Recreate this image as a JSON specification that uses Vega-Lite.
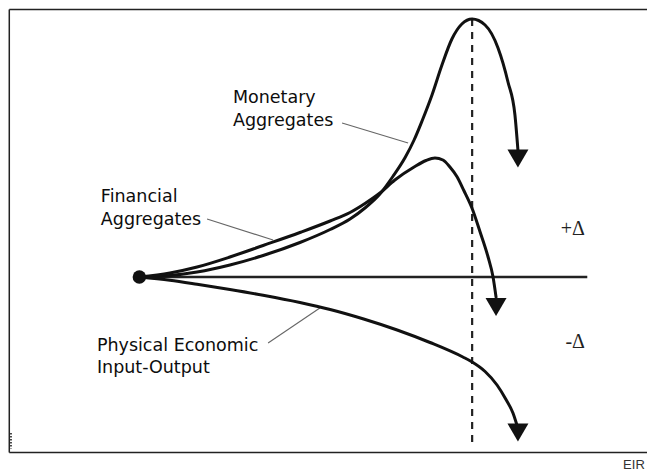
{
  "$schema": "https://vega.github.io/schema/vega-lite/v6.json",
  "width": 647,
  "height": 472,
  "padding": 0,
  "autosize": {"type": "none"},
  "background": "white",
  "config": {"view": {"stroke": null}},
  "datasets": {
    "curves": [
      {"curve": "Monetary Aggregates", "i": 0, "x": 0, "y": 0},
      {"curve": "Monetary Aggregates", "i": 1, "x": 9.2, "y": 0.6},
      {"curve": "Monetary Aggregates", "i": 2, "x": 17.4, "y": 2.0},
      {"curve": "Monetary Aggregates", "i": 3, "x": 27.3, "y": 4.8},
      {"curve": "Monetary Aggregates", "i": 4, "x": 37.3, "y": 8.6},
      {"curve": "Monetary Aggregates", "i": 5, "x": 48.4, "y": 13.8},
      {"curve": "Monetary Aggregates", "i": 6, "x": 57.5, "y": 19.0},
      {"curve": "Monetary Aggregates", "i": 7, "x": 63.5, "y": 23.2},
      {"curve": "Monetary Aggregates", "i": 8, "x": 68.0, "y": 27.6},
      {"curve": "Monetary Aggregates", "i": 9, "x": 72.5, "y": 33.2},
      {"curve": "Monetary Aggregates", "i": 10, "x": 76.4, "y": 40.2},
      {"curve": "Monetary Aggregates", "i": 11, "x": 80.1, "y": 47.8},
      {"curve": "Monetary Aggregates", "i": 12, "x": 82.8, "y": 54.8},
      {"curve": "Monetary Aggregates", "i": 13, "x": 85.2, "y": 62.4},
      {"curve": "Monetary Aggregates", "i": 14, "x": 88.2, "y": 72.8},
      {"curve": "Monetary Aggregates", "i": 15, "x": 91.2, "y": 84.8},
      {"curve": "Monetary Aggregates", "i": 16, "x": 94.2, "y": 95.2},
      {"curve": "Monetary Aggregates", "i": 17, "x": 97.2, "y": 101.2},
      {"curve": "Monetary Aggregates", "i": 18, "x": 100.3, "y": 103.2},
      {"curve": "Monetary Aggregates", "i": 19, "x": 104.2, "y": 100.8},
      {"curve": "Monetary Aggregates", "i": 20, "x": 108.1, "y": 91.6},
      {"curve": "Monetary Aggregates", "i": 21, "x": 111.1, "y": 78.0},
      {"curve": "Monetary Aggregates", "i": 22, "x": 113.2, "y": 64.8},
      {"curve": "Monetary Aggregates", "i": 23, "x": 114.1, "y": 50.8},
      {"curve": "Financial Aggregates", "i": 0, "x": 0, "y": 0},
      {"curve": "Financial Aggregates", "i": 1, "x": 9.2, "y": 1.6},
      {"curve": "Financial Aggregates", "i": 2, "x": 17.4, "y": 4.0},
      {"curve": "Financial Aggregates", "i": 3, "x": 27.3, "y": 8.0},
      {"curve": "Financial Aggregates", "i": 4, "x": 37.3, "y": 12.6},
      {"curve": "Financial Aggregates", "i": 5, "x": 48.4, "y": 17.8},
      {"curve": "Financial Aggregates", "i": 6, "x": 57.5, "y": 22.4},
      {"curve": "Financial Aggregates", "i": 7, "x": 63.5, "y": 25.8},
      {"curve": "Financial Aggregates", "i": 8, "x": 68.0, "y": 29.4},
      {"curve": "Financial Aggregates", "i": 9, "x": 72.5, "y": 33.6},
      {"curve": "Financial Aggregates", "i": 10, "x": 77.0, "y": 38.8},
      {"curve": "Financial Aggregates", "i": 11, "x": 82.8, "y": 44.0},
      {"curve": "Financial Aggregates", "i": 12, "x": 86.4, "y": 46.6},
      {"curve": "Financial Aggregates", "i": 13, "x": 89.1, "y": 47.6},
      {"curve": "Financial Aggregates", "i": 14, "x": 91.5, "y": 46.8},
      {"curve": "Financial Aggregates", "i": 15, "x": 93.6, "y": 44.0},
      {"curve": "Financial Aggregates", "i": 16, "x": 95.7, "y": 40.2},
      {"curve": "Financial Aggregates", "i": 17, "x": 97.8, "y": 34.6},
      {"curve": "Financial Aggregates", "i": 18, "x": 100.3, "y": 27.4},
      {"curve": "Financial Aggregates", "i": 19, "x": 102.7, "y": 18.0},
      {"curve": "Financial Aggregates", "i": 20, "x": 105.1, "y": 8.0},
      {"curve": "Financial Aggregates", "i": 21, "x": 106.6, "y": 0},
      {"curve": "Financial Aggregates", "i": 22, "x": 107.5, "y": -8.0},
      {"curve": "Physical Economic Input-Output", "i": 0, "x": 0, "y": 0},
      {"curve": "Physical Economic Input-Output", "i": 1, "x": 9.2, "y": -1.3},
      {"curve": "Physical Economic Input-Output", "i": 2, "x": 17.4, "y": -2.9},
      {"curve": "Physical Economic Input-Output", "i": 3, "x": 27.3, "y": -5.0},
      {"curve": "Physical Economic Input-Output", "i": 4, "x": 37.3, "y": -7.3},
      {"curve": "Physical Economic Input-Output", "i": 5, "x": 48.4, "y": -10.2},
      {"curve": "Physical Economic Input-Output", "i": 6, "x": 57.5, "y": -13.0},
      {"curve": "Physical Economic Input-Output", "i": 7, "x": 67.6, "y": -16.8},
      {"curve": "Physical Economic Input-Output", "i": 8, "x": 77.7, "y": -21.2},
      {"curve": "Physical Economic Input-Output", "i": 9, "x": 87.6, "y": -26.2},
      {"curve": "Physical Economic Input-Output", "i": 10, "x": 97.5, "y": -32.0},
      {"curve": "Physical Economic Input-Output", "i": 11, "x": 100.3, "y": -34.0},
      {"curve": "Physical Economic Input-Output", "i": 12, "x": 104.2, "y": -37.8},
      {"curve": "Physical Economic Input-Output", "i": 13, "x": 107.8, "y": -43.2},
      {"curve": "Physical Economic Input-Output", "i": 14, "x": 110.5, "y": -49.0},
      {"curve": "Physical Economic Input-Output", "i": 15, "x": 112.6, "y": -54.4},
      {"curve": "Physical Economic Input-Output", "i": 16, "x": 113.8, "y": -59.2}
    ],
    "arrows": [
      {"curve": "Monetary Aggregates", "x": 114.1, "y": 47.4},
      {"curve": "Financial Aggregates", "x": 107.5, "y": -12.0},
      {"curve": "Physical Economic Input-Output", "x": 114.1, "y": -62.2}
    ],
    "origin": [{"x": 0, "y": 0}],
    "frame": [
      {"side": "top", "x": -39.2, "x2": 153, "y": 107.0, "y2": 107.0},
      {"side": "bottom", "x": -39.2, "x2": 153, "y": -70.2, "y2": -70.2},
      {"side": "left", "x": -39.2, "x2": -39.2, "y": -70.2, "y2": 107.0}
    ],
    "baseline": [{"x": 0, "x2": 135, "y": 0, "y2": 0}],
    "turn": [{"x": 100.3, "x2": 100.3, "y": 103.2, "y2": -68.0}],
    "speck": [{"x": -38.7, "x2": -38.7, "y": -62.4, "y2": -68.6}],
    "pointers": [
      {"label": "Monetary Aggregates", "x": 61.1, "y": 61.6, "x2": 81.0, "y2": 53.6},
      {"label": "Financial Aggregates", "x": 20.4, "y": 23.2, "x2": 40.3, "y2": 14.8},
      {"label": "Physical Economic Input-Output", "x": 38.8, "y": -26.4, "x2": 54.4, "y2": -12.4}
    ],
    "labels": [
      {"text": "Monetary", "x": 28.2, "y": 69.6},
      {"text": "Aggregates", "x": 28.2, "y": 60.4},
      {"text": "Financial", "x": -11.6, "y": 30.0},
      {"text": "Aggregates", "x": -11.6, "y": 20.8},
      {"text": "Physical Economic", "x": -12.8, "y": -29.6},
      {"text": "Input-Output", "x": -12.8, "y": -38.4}
    ],
    "deltas": [
      {"text": "+Δ", "x": 134.3, "y": 16.8},
      {"text": "-Δ", "x": 134.3, "y": -28.4}
    ],
    "source": [{"text": "EIR", "x": 145.8, "y": -76.6}]
  },
  "encoding": {
    "x": {"field": "x", "type": "quantitative", "scale": {"domain": [-42, 153], "nice": false, "zero": false}, "axis": null},
    "y": {"field": "y", "type": "quantitative", "scale": {"domain": [-78, 110.8], "nice": false, "zero": false}, "axis": null}
  },
  "layer": [
    {
      "data": {"name": "frame"},
      "mark": {"type": "rule", "color": "#222222", "strokeWidth": 1.5},
      "encoding": {"x2": {"field": "x2"}, "y2": {"field": "y2"}}
    },
    {
      "data": {"name": "speck"},
      "mark": {"type": "rule", "color": "#444444", "strokeWidth": 2, "strokeDash": [1.5, 1.5]},
      "encoding": {"x2": {"field": "x2"}, "y2": {"field": "y2"}}
    },
    {
      "data": {"name": "baseline"},
      "mark": {"type": "rule", "color": "#222222", "strokeWidth": 2.5},
      "encoding": {"x2": {"field": "x2"}, "y2": {"field": "y2"}}
    },
    {
      "data": {"name": "turn"},
      "mark": {"type": "rule", "color": "#222222", "strokeWidth": 2.2, "strokeDash": [7, 6]},
      "encoding": {"x2": {"field": "x2"}, "y2": {"field": "y2"}}
    },
    {
      "data": {"name": "pointers"},
      "mark": {"type": "rule", "color": "#666666", "strokeWidth": 1.1},
      "encoding": {"x2": {"field": "x2"}, "y2": {"field": "y2"}}
    },
    {
      "data": {"name": "curves"},
      "mark": {"type": "line", "interpolate": "monotone", "color": "#111111", "strokeWidth": 3, "strokeCap": "round"},
      "encoding": {
        "detail": {"field": "curve", "type": "nominal"},
        "order": {"field": "i", "type": "quantitative"}
      }
    },
    {
      "data": {"name": "arrows"},
      "mark": {"type": "point", "shape": "triangle-down", "filled": true, "size": 441, "color": "#111111", "opacity": 1},
      "encoding": {}
    },
    {
      "data": {"name": "origin"},
      "mark": {"type": "point", "shape": "circle", "filled": true, "size": 180, "color": "#111111", "opacity": 1},
      "encoding": {}
    },
    {
      "data": {"name": "labels"},
      "mark": {"type": "text", "align": "left", "baseline": "alphabetic", "font": "DejaVu Sans", "fontSize": 17.5, "color": "#0d0d0d"},
      "encoding": {"text": {"field": "text"}}
    },
    {
      "data": {"name": "deltas"},
      "mark": {"type": "text", "align": "right", "baseline": "alphabetic", "font": "Liberation Serif", "fontSize": 20, "color": "#222222"},
      "encoding": {"text": {"field": "text"}}
    },
    {
      "data": {"name": "source"},
      "mark": {"type": "text", "align": "left", "baseline": "alphabetic", "font": "Liberation Sans", "fontSize": 13, "color": "#333333"},
      "encoding": {"text": {"field": "text"}}
    }
  ]
}
